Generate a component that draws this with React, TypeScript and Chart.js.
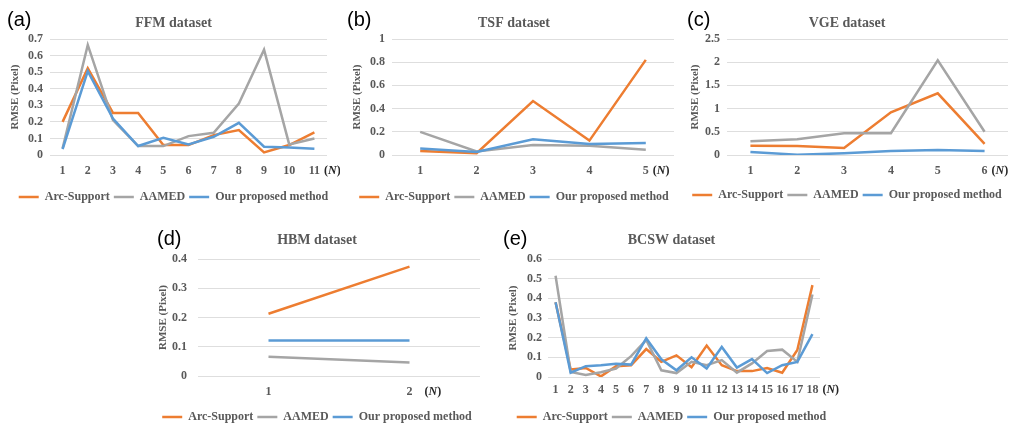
import { useEffect, useRef } from "react";
import { Chart, registerables } from "chart.js";

Chart.register(...registerables);

// ---------- shared labels ----------
const SERIES = ["Arc-Support", "AAMED", "Our proposed method"];
const COLORS = ["#ED7D31", "#A5A5A5", "#5B9BD5"];
const Y_TITLE = "RMSE (Pixel)";

// ---------- (a) FFM dataset ----------
const ffmN = ["1", "2", "3", "4", "5", "6", "7", "8", "9", "10", "11"];
const ffmArc = [0.2, 0.524, 0.254, 0.254, 0.06, 0.06, 0.12, 0.15, 0.016, 0.06, 0.136];
const ffmAamed = [0.04, 0.664, 0.21, 0.054, 0.054, 0.114, 0.134, 0.31, 0.636, 0.064, 0.1];
const ffmOurs = [0.036, 0.506, 0.22, 0.054, 0.104, 0.064, 0.11, 0.194, 0.05, 0.046, 0.038];
const ffmTicks = [0, 0.1, 0.2, 0.3, 0.4, 0.5, 0.6, 0.7];

// ---------- (b) TSF dataset ----------
const tsfN = ["1", "2", "3", "4", "5"];
const tsfArc = [0.035, 0.015, 0.465, 0.124, 0.82];
const tsfAamed = [0.199, 0.03, 0.086, 0.08, 0.045];
const tsfOurs = [0.055, 0.026, 0.135, 0.095, 0.104];
const tsfTicks = [0, 0.2, 0.4, 0.6, 0.8, 1];

// ---------- (c) VGE dataset ----------
const vgeN = ["1", "2", "3", "4", "5", "6"];
const vgeArc = [0.2, 0.195, 0.15, 0.92, 1.33, 0.24];
const vgeAamed = [0.295, 0.34, 0.47, 0.47, 2.04, 0.5];
const vgeOurs = [0.065, 0.007, 0.036, 0.086, 0.108, 0.086];
const vgeTicks = [0, 0.5, 1, 1.5, 2, 2.5];

// ---------- (d) HBM dataset ----------
const hbmN = ["1", "2"];
const hbmArc = [0.213, 0.374];
const hbmAamed = [0.066, 0.046];
const hbmOurs = [0.121, 0.121];
const hbmTicks = [0, 0.1, 0.2, 0.3, 0.4];

// ---------- (e) BCSW dataset ----------
const bcswN = ["1", "2", "3", "4", "5", "6", "7", "8", "9", "10", "11", "12", "13", "14", "15", "16", "17", "18"];
const bcswArc = [0.38, 0.038, 0.046, 0.003, 0.055, 0.06, 0.142, 0.077, 0.11, 0.05, 0.16, 0.06, 0.03, 0.03, 0.046, 0.022, 0.137, 0.467];
const bcswAamed = [0.515, 0.026, 0.01, 0.024, 0.043, 0.106, 0.189, 0.034, 0.02, 0.077, 0.06, 0.086, 0.022, 0.069, 0.132, 0.139, 0.077, 0.42];
const bcswOurs = [0.38, 0.022, 0.055, 0.06, 0.067, 0.063, 0.197, 0.09, 0.034, 0.1, 0.043, 0.153, 0.048, 0.091, 0.02, 0.06, 0.077, 0.218];
const bcswTicks = [0, 0.1, 0.2, 0.3, 0.4, 0.5, 0.6];

// ---------- styles ----------
const SERIF = '"Liberation Serif", "Times New Roman", serif';
const SANS = '"Liberation Sans", Arial, sans-serif';
const TEXT = "#595959";
const GRID = "#DEDEDE";
const TITLE_SIZE = 14;
const TICK_SIZE = 12;
const YT_SIZE = 11;
const LEG_SIZE = 12;
const LEG_PAD = 4;
const RIGHT_SPACER = 12;

type Panel = {
  letter: string;
  title: string;
  labels: string[];
  series: number[][];
  ticks: number[];
  // layout (pixels, relative to the panel canvas)
  box: [number, number, number, number];
  chartL: number;
  chartR: number;
  chartT: number;
  chartB: number;
  center: number;
  titleY: number;
  legendY: number;
  yTitleX: number;
  tickRight: number;
  xLabelY: number;
  letterPos: [number, number];
  nGap: number;
};

const PANELS: Panel[] = [
  {
    letter: "(a)", title: "FFM dataset", labels: ffmN, series: [ffmArc, ffmAamed, ffmOurs], ticks: ffmTicks,
    box: [0, 0, 340, 214], chartL: 50, chartR: 327, chartT: 39, chartB: 155, center: 173.5,
    titleY: 23, legendY: 197, yTitleX: 15, tickRight: 43, xLabelY: 171, letterPos: [7, 26], nGap: 4,
  },
  {
    letter: "(b)", title: "TSF dataset", labels: tsfN, series: [tsfArc, tsfAamed, tsfOurs], ticks: tsfTicks,
    box: [340, 0, 340, 214], chartL: 52, chartR: 334, chartT: 39, chartB: 155, center: 174,
    titleY: 23, legendY: 197, yTitleX: 17, tickRight: 45, xLabelY: 171, letterPos: [7, 26], nGap: 4,
  },
  {
    letter: "(c)", title: "VGE dataset", labels: vgeN, series: [vgeArc, vgeAamed, vgeOurs], ticks: vgeTicks,
    box: [680, 0, 334, 214], chartL: 47, chartR: 328, chartT: 39, chartB: 155, center: 167,
    titleY: 23, legendY: 195, yTitleX: 15, tickRight: 40, xLabelY: 171, letterPos: [7, 26], nGap: 4,
  },
  {
    letter: "(d)", title: "HBM dataset", labels: hbmN, series: [hbmArc, hbmAamed, hbmOurs], ticks: hbmTicks,
    box: [150, 214, 340, 213], chartL: 48, chartR: 330, chartT: 45, chartB: 162, center: 167,
    titleY: 26.7, legendY: 203, yTitleX: 13, tickRight: 37, xLabelY: 178, letterPos: [7, 31], nGap: 12,
  },
  {
    letter: "(e)", title: "BCSW dataset", labels: bcswN, series: [bcswArc, bcswAamed, bcswOurs], ticks: bcswTicks,
    box: [490, 214, 350, 213], chartL: 58, chartR: 330, chartT: 45, chartB: 163, center: 181.5,
    titleY: 26.7, legendY: 203, yTitleX: 23, tickRight: 52, xLabelY: 176, letterPos: [13, 31], nGap: 4,
  },
];

const panelMarks = {
  id: "panelMarks",
  afterDraw(chart: any, _args: any, o: any) {
    const ctx = chart.ctx;
    const xs = chart.scales.x;
    ctx.save();
    // panel letter
    ctx.fillStyle = "#000000";
    ctx.font = `20px ${SANS}`;
    ctx.textAlign = "left";
    ctx.textBaseline = "alphabetic";
    ctx.fillText(o.letter, o.letterX, o.letterY);
    // (N) axis label after last category
    const labels = chart.data.labels;
    const last = labels.length - 1;
    const px = xs.getPixelForValue(last);
    ctx.font = `bold ${TICK_SIZE}px ${SERIF}`;
    const lw = ctx.measureText(String(labels[last])).width;
    let x = px + lw / 2 + o.nGap;
    const y = xs.top + o.xPad + (TICK_SIZE * 1.2) / 2;
    ctx.textBaseline = "middle";
    ctx.fillStyle = "#262626";
    ctx.fillText("(", x, y);
    x += ctx.measureText("(").width;
    ctx.font = `italic bold ${TICK_SIZE}px ${SERIF}`;
    ctx.fillText("N", x, y);
    x += ctx.measureText("N").width;
    ctx.font = `bold ${TICK_SIZE}px ${SERIF}`;
    ctx.fillText(")", x, y);
    ctx.restore();
  },
};

function PanelChart({ p }: { p: Panel }) {
  const ref = useRef<HTMLCanvasElement>(null);
  const [left, top, w0, h] = p.box;
  const w = Math.max(w0, p.chartR + RIGHT_SPACER);

  useEffect(() => {
    const k = RIGHT_SPACER;
    const R = w - p.chartR - k;
    const L = 2 * p.center - p.chartR - k;
    const yWidth = p.chartL - L;
    const yTickPad = p.chartL - p.tickRight;
    const yTitlePad = p.yTitleX - L - (YT_SIZE * 1.2) / 2;
    const titleTop = p.titleY - (TITLE_SIZE * 1.2) / 2;
    const titleBottom = p.chartT - p.titleY - (TITLE_SIZE * 1.2) / 2;
    const xPad = p.xLabelY - p.chartB - (TICK_SIZE * 1.2) / 2;
    const legendTop = p.legendY - LEG_PAD - LEG_SIZE / 2;
    const xHeight = legendTop - p.chartB;
    const legendHeight = LEG_SIZE + LEG_PAD + 10;
    const padBottom = h - legendTop - legendHeight;
    const ticks = p.ticks;

    const chart = new Chart(ref.current as HTMLCanvasElement, {
      type: "line",
      data: {
        labels: p.labels,
        datasets: p.series.map((d, i) => ({
          label: SERIES[i],
          data: d,
          borderColor: COLORS[i],
          backgroundColor: COLORS[i],
          borderWidth: 2.5,
          pointRadius: 0,
          pointHoverRadius: 0,
          pointStyle: "line",
          tension: 0,
          fill: false,
          order: 3 - i,
          xAxisID: "x",
          yAxisID: "y",
        })),
      },
      options: {
        animation: false,
        responsive: false,
        events: [],
        layout: { padding: { left: L, right: R, top: 0, bottom: padBottom } },
        plugins: {
          title: {
            display: true,
            text: p.title,
            color: TEXT,
            font: { family: SERIF, size: TITLE_SIZE, weight: "bold" },
            padding: { top: titleTop, bottom: titleBottom },
          },
          legend: {
            position: "bottom",
            labels: {
              usePointStyle: true,
              pointStyle: "line",
              pointStyleWidth: 20,
              padding: LEG_PAD,
              color: TEXT,
              font: { family: SERIF, size: LEG_SIZE, weight: "bold" },
              sort: (a: any, b: any) => a.datasetIndex - b.datasetIndex,
            },
          },
          tooltip: { enabled: false },
          panelMarks: {
            letter: p.letter,
            letterX: p.letterPos[0],
            letterY: p.letterPos[1],
            nGap: p.nGap,
            xPad,
          },
        } as any,
        scales: {
          x: {
            type: "category",
            offset: true,
            grid: { display: false, drawTicks: false },
            border: { display: false },
            ticks: {
              color: TEXT,
              font: { family: SERIF, size: TICK_SIZE, weight: "bold" },
              padding: xPad,
              maxRotation: 0,
              autoSkip: false,
            },
            afterFit: (s: any) => {
              s.height = xHeight;
            },
          },
          y: {
            type: "linear",
            position: "left",
            min: ticks[0],
            max: ticks[ticks.length - 1],
            grid: { color: GRID, lineWidth: 1, drawTicks: false },
            border: { display: false },
            ticks: {
              color: TEXT,
              font: { family: SERIF, size: TICK_SIZE, weight: "bold" },
              padding: yTickPad,
              autoSkip: false,
              callback: (v: any) => String(v),
            },
            afterBuildTicks: (s: any) => {
              s.ticks = ticks.map((v) => ({ value: v }));
            },
            afterFit: (s: any) => {
              s.width = yWidth;
            },
            title: {
              display: true,
              text: Y_TITLE,
              color: TEXT,
              font: { family: SERIF, size: YT_SIZE, weight: "bold" },
              padding: { top: yTitlePad, bottom: 0 },
            },
          },
          ySpacer: {
            type: "linear",
            position: "right",
            display: true,
            grid: { display: false, drawTicks: false },
            border: { display: false },
            ticks: { display: false },
            afterFit: (s: any) => {
              s.width = k;
            },
          },
        },
      } as any,
      plugins: [panelMarks as any],
    });
    return () => chart.destroy();
  }, [p, w, h]);

  return (
    <div style={{ position: "absolute", left, top, width: w, height: h }}>
      <canvas ref={ref} width={w} height={h} style={{ display: "block" }} />
    </div>
  );
}

export default function App() {
  return (
    <div
      style={{
        position: "fixed",
        left: 0,
        top: 0,
        width: 1014,
        height: 427,
        background: "#ffffff",
        overflow: "hidden",
      }}
    >
      {PANELS.map((p) => (
        <PanelChart key={p.letter} p={p} />
      ))}
    </div>
  );
}
